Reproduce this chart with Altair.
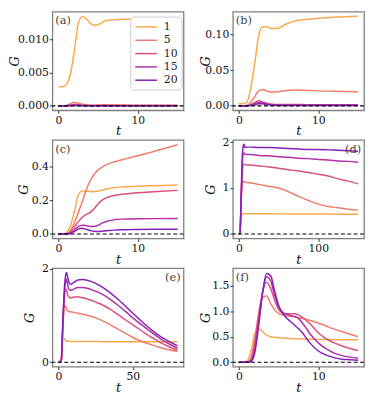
import altair as alt
import pandas as pd

NAMES = ["1", "5", "10", "15", "20"]
COLORS = ["#fba84b", "#f27c68", "#d9507f", "#b22fa9", "#8520b8"]

# time grids
T_A = [0, 0.5, 1, 1.5, 2, 2.5, 3, 3.5, 4, 4.5, 5, 5.5, 6, 7, 8, 9, 10, 12, 15]
T_D = [0, 1.5, 3, 5, 6.5, 8, 10, 15, 25, 37.5, 50, 62.5, 75, 87.5, 100, 112.5, 125, 137.5, 150]
T_E = [0, 1, 2, 3, 4, 5, 5.5, 6, 7, 8, 10, 13, 16, 20, 25, 30, 35, 40, 45, 50, 55, 60, 65, 70, 75, 80]
T_F = [0, 0.5, 1, 1.5, 2, 2.5, 3, 3.5, 4, 4.5, 5, 5.5, 6, 6.5, 7, 7.5, 8, 8.5, 9, 10, 11, 12, 13, 14, 15]

# panel (a)
A_1 = [0.0029, 0.0029, 0.0032, 0.0047, 0.0082, 0.0124, 0.0135, 0.0132, 0.0125, 0.0122, 0.0123, 0.0126, 0.0129, 0.0130, 0.0131, 0.0131, 0.0131, 0.0132, 0.0132]
A_5 = [0, 0, 0.00005, 0.0003, 0.0005, 0.0004, 0.00025, 0.00015, 0.0001, 0.0001, 0.00012, 0.00015, 0.00015, 0.00013, 0.00012, 0.0001, 0.0001, 0.0001, 0.0001]
A_10 = [0, 0, 0.00002, 0.0001, 0.0002, 0.00015, 0.0001, 0.00006, 0.00005, 0.00005, 0.00005, 0.00005, 0.00005, 0.00005, 0.00005, 0.00005, 0.00005, 0.00005, 0.00005]
A_15 = [0, 0, 0.00001, 0.00005, 0.0001, 0.00008, 0.00005, 0.00003, 0.00002, 0.00002, 0.00002, 0.00002, 0.00002, 0.00002, 0.00002, 0.00002, 0.00002, 0.00002, 0.00002]
A_20 = [0, 0, 0, 0.00002, 0.00005, 0.00004, 0.00002, 0.00001, 0.00001, 0.00001, 0.00001, 0.00001, 0.00001, 0.00001, 0.00001, 0.00001, 0.00001, 0.00001, 0.00001]

# panel (b)
B_1 = [0.003, 0.003, 0.005, 0.025, 0.06, 0.098, 0.111, 0.111, 0.109, 0.1085, 0.109, 0.112, 0.115, 0.119, 0.121, 0.122, 0.123, 0.1245, 0.126]
B_5 = [0, 0, 0.0005, 0.005, 0.013, 0.021, 0.023, 0.021, 0.0195, 0.0193, 0.0198, 0.0207, 0.0215, 0.0222, 0.022, 0.0215, 0.021, 0.0205, 0.0198]
B_10 = [0, 0, 0.0002, 0.0015, 0.0045, 0.007, 0.0055, 0.0035, 0.0025, 0.002, 0.002, 0.002, 0.002, 0.0018, 0.0017, 0.0016, 0.0016, 0.0015, 0.0015]
B_15 = [0, 0, 0.0001, 0.001, 0.003, 0.0048, 0.004, 0.0025, 0.0015, 0.0012, 0.0012, 0.0012, 0.0012, 0.0011, 0.001, 0.001, 0.001, 0.001, 0.001]
B_20 = [0, 0, 0, 0.0005, 0.0015, 0.003, 0.0028, 0.0018, 0.001, 0.0007, 0.0006, 0.0006, 0.0006, 0.0005, 0.0005, 0.0005, 0.0005, 0.0005, 0.0005]

# panel (c)
C_1 = [0, 0, 0.008, 0.045, 0.13, 0.228, 0.255, 0.254, 0.251, 0.25, 0.254, 0.26, 0.266, 0.274, 0.278, 0.281, 0.283, 0.286, 0.29]
C_5 = [0, 0, 0.002, 0.02, 0.065, 0.125, 0.19, 0.26, 0.315, 0.352, 0.378, 0.396, 0.409, 0.426, 0.439, 0.451, 0.463, 0.488, 0.528]
C_10 = [0, 0, 0.001, 0.01, 0.04, 0.072, 0.098, 0.115, 0.128, 0.15, 0.178, 0.2, 0.214, 0.228, 0.235, 0.24, 0.244, 0.25, 0.258]
C_15 = [0, 0, 0, 0.005, 0.022, 0.043, 0.052, 0.05, 0.045, 0.045, 0.052, 0.064, 0.074, 0.084, 0.088, 0.089, 0.09, 0.091, 0.092]
C_20 = [0, 0, 0, 0.003, 0.014, 0.029, 0.034, 0.028, 0.021, 0.016, 0.015, 0.017, 0.019, 0.023, 0.025, 0.026, 0.027, 0.028, 0.028]

# panel (d)
D_1 = [0, 0.02, 0.38, 0.44, 0.44, 0.44, 0.44, 0.44, 0.44, 0.44, 0.438, 0.437, 0.436, 0.435, 0.434, 0.433, 0.432, 0.431, 0.43]
D_5 = [0, 0.02, 0.7, 1.12, 1.14, 1.13, 1.12, 1.11, 1.08, 1.04, 1.0, 0.92, 0.82, 0.73, 0.65, 0.6, 0.57, 0.54, 0.52]
D_10 = [0, 0.02, 0.8, 1.48, 1.52, 1.51, 1.5, 1.5, 1.48, 1.46, 1.43, 1.4, 1.37, 1.34, 1.3, 1.26, 1.2, 1.15, 1.09]
D_15 = [0, 0.02, 0.85, 1.7, 1.76, 1.74, 1.73, 1.73, 1.71, 1.7, 1.68, 1.67, 1.65, 1.64, 1.62, 1.61, 1.59, 1.58, 1.56]
D_20 = [0, 0.02, 0.9, 1.85, 1.95, 1.88, 1.89, 1.89, 1.88, 1.88, 1.87, 1.86, 1.85, 1.84, 1.84, 1.83, 1.82, 1.81, 1.8]

# panel (e)
E_1 = [0, 0, 0.05, 0.5, 0.51, 0.46, 0.455, 0.45, 0.448, 0.446, 0.445, 0.444, 0.443, 0.442, 0.442, 0.441, 0.441, 0.44, 0.44, 0.44, 0.44, 0.439, 0.439, 0.438, 0.438, 0.437]
E_5 = [0, 0, 0.05, 0.7, 1.2, 1.2, 1.15, 1.11, 1.09, 1.08, 1.07, 1.05, 1.03, 1.0, 0.95, 0.88, 0.8, 0.71, 0.62, 0.53, 0.46, 0.4, 0.35, 0.3, 0.26, 0.23]
E_10 = [0, 0, 0.05, 0.75, 1.35, 1.57, 1.55, 1.47, 1.4, 1.38, 1.39, 1.4, 1.38, 1.35, 1.29, 1.22, 1.13, 1.02, 0.91, 0.8, 0.69, 0.58, 0.49, 0.4, 0.32, 0.26]
E_15 = [0, 0, 0.05, 0.8, 1.45, 1.75, 1.78, 1.7, 1.57, 1.54, 1.56, 1.6, 1.6, 1.58, 1.52, 1.45, 1.34, 1.22, 1.09, 0.95, 0.82, 0.7, 0.58, 0.47, 0.38, 0.3]
E_20 = [0, 0, 0.05, 0.85, 1.55, 1.88, 1.92, 1.86, 1.72, 1.67, 1.7, 1.76, 1.77, 1.75, 1.69, 1.6, 1.48, 1.35, 1.2, 1.05, 0.9, 0.76, 0.63, 0.52, 0.43, 0.35]

# panel (f)
F_1 = [0, 0, 0.02, 0.2, 0.55, 0.66, 0.6, 0.53, 0.5, 0.49, 0.48, 0.475, 0.47, 0.465, 0.46, 0.458, 0.455, 0.453, 0.45, 0.448, 0.445, 0.443, 0.442, 0.44, 0.44]
F_5 = [0, 0, 0, 0.08, 0.45, 0.98, 1.28, 1.3, 1.15, 1.03, 0.96, 0.93, 0.91, 0.9, 0.89, 0.875, 0.86, 0.84, 0.82, 0.77, 0.71, 0.65, 0.6, 0.55, 0.5]
F_10 = [0, 0, 0, 0.04, 0.35, 0.9, 1.38, 1.57, 1.45, 1.22, 1.04, 0.97, 0.95, 0.95, 0.95, 0.93, 0.88, 0.82, 0.75, 0.58, 0.46, 0.38, 0.32, 0.27, 0.23]
F_15 = [0, 0, 0, 0.02, 0.25, 0.8, 1.38, 1.68, 1.6, 1.32, 1.09, 0.98, 0.94, 0.92, 0.9, 0.86, 0.77, 0.66, 0.55, 0.38, 0.26, 0.18, 0.13, 0.1, 0.08]
F_20 = [0, 0, 0, 0.01, 0.18, 0.72, 1.38, 1.74, 1.7, 1.4, 1.12, 0.96, 0.87, 0.8, 0.73, 0.66, 0.58, 0.47, 0.37, 0.22, 0.14, 0.09, 0.06, 0.05, 0.04]

W, H = 133, 100
FONT = "DejaVu Serif"


def panel(t, series, xdom, ydom, xticks, yticks, yfmt, label, right, tpad, legend=False):
    rows = []
    for name, vals in zip(NAMES, series):
        for ti, v in zip(t, vals):
            rows.append({"t": ti, "g": v, "n": name})
    df = pd.DataFrame(rows)
    if legend:
        leg = alt.Legend(title=None, orient="none", legendX=79, legendY=5,
                         symbolType="M-1,0H3", symbolSize=121, symbolStrokeWidth=1.5,
                         labelOffset=17, rowPadding=1.5, padding=4,
                         strokeColor="#cccccc", fillColor="white", cornerRadius=3,
                         labelFont=FONT, labelFontSize=11, labelColor="#222222")
    else:
        leg = None
    lines = alt.Chart(df).mark_line(interpolate="monotone", strokeWidth=1.5, clip=True).encode(
        x=alt.X("t:Q", scale=alt.Scale(domain=xdom, nice=False, zero=False),
                axis=alt.Axis(values=xticks, tickCount=20, format="d", title="t")),
        y=alt.Y("g:Q", scale=alt.Scale(domain=ydom, nice=False, zero=False),
                axis=alt.Axis(values=yticks, tickCount=20, format=yfmt, title="G",
                              titlePadding=tpad, labelOverlap=False)),
        color=alt.Color("n:N", scale=alt.Scale(domain=NAMES, range=COLORS), legend=leg),
    )
    zero = alt.Chart(pd.DataFrame({"z": [0]})).mark_rule(
        color="black", strokeDash=[4, 2.5], strokeWidth=1.2).encode(y=alt.datum(0))
    txt = alt.Chart(pd.DataFrame({"s": [label]})).mark_text(
        font=FONT, fontSize=11.5, color="#444444", baseline="top",
        align="right" if right else "left").encode(
        text="s:N", x=alt.value(W - 3 if right else 3), y=alt.value(4))
    return alt.layer(lines, zero, txt).properties(width=W, height=H)


XA = [-0.75, 15.75]
pa = panel(T_A, [A_1, A_5, A_10, A_15, A_20], XA, [-0.00068, 0.01425], [0, 10],
           [0, 0.005, 0.01], ".3f", "(a)", False, -4.2, legend=True)
pb = panel(T_A, [B_1, B_5, B_10, B_15, B_20], XA, [-0.0063, 0.1323], [0, 10],
           [0, 0.05, 0.1], ".2f", "(b)", False, -8)
pc = panel(T_A, [C_1, C_5, C_10, C_15, C_20], XA, [-0.0265, 0.5565], [0, 10],
           [0, 0.2, 0.4], ".1f", "(c)", False, 1)
pd_ = panel(T_D, [D_1, D_5, D_10, D_15, D_20], [-7.5, 157.5], [-0.0975, 2.0475], [0, 100],
            [0, 1, 2], "d", "(d)", True, 4.3)
pe = panel(T_E, [E_1, E_5, E_10, E_15, E_20], [-4, 84], [-0.096, 2.016], [0, 50],
           [0, 1, 2], "d", "(e)", True, 5.3)
pf = panel(T_F, [F_1, F_5, F_10, F_15, F_20], XA, [-0.088, 1.848], [0, 10],
           [0, 0.5, 1, 1.5], ".1f", "(f)", False, -1)

chart = alt.concat(pa, pb, pc, pd_, pe, pf, columns=2,
                   spacing={"row": 30, "column": 50}, bounds="flush").resolve_scale(
    color="independent").properties(padding=0).configure(font=FONT).configure_view(
    stroke="#808080", strokeWidth=1.3).configure_axis(
    grid=False, domain=False, tickSize=3, tickWidth=1, tickColor="#333333",
    labelPadding=1, labelFont=FONT, labelFontSize=11, labelColor="#111111",
    labelBound=False, labelFlush=False,
    titleFont=FONT, titleFontSize=13, titleFontStyle="italic", titleFontWeight="normal",
    titleColor="#111111").configure_axisX(titlePadding=0)

chart.save("out.html", embed_options={"renderer": "svg", "actions": False})
